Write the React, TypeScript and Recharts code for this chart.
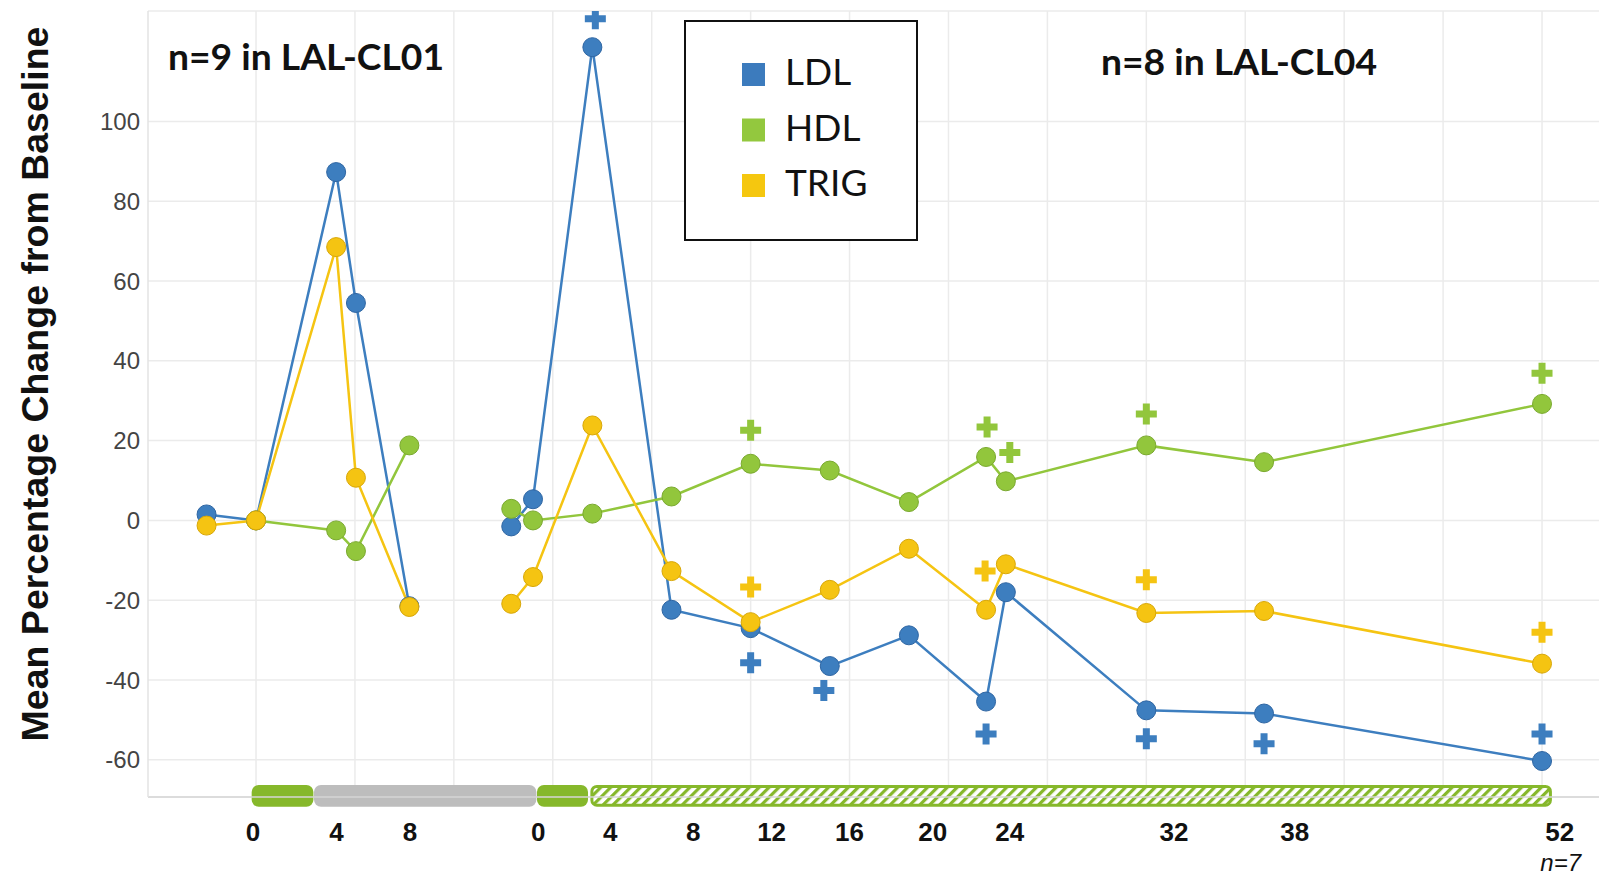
import React from "react";
import { ComposedChart, Line, Scatter, XAxis, YAxis, CartesianGrid, ReferenceArea, Legend } from "recharts";

// x position on the display axis: 5 units per grid column, LAL-CL01 first, then LAL-CL04
const pos = [-2.5, 0, 4.05, 5.05, 7.75, 10, 12.9, 14, 17, 21, 25, 29, 33, 36.9, 37.9, 45, 50.95, 65];
const ldl = [1.5, 0, 87.3, 54.5, -21.5, null, -1.5, 5.3, 118.6, -22.4, -27, -36.5, -28.8, -45.4, -18, -47.6, -48.4, -60.3];
const hdl = [null, 0, -2.5, -7.7, 18.8, null, 2.9, 0, 1.7, 6, 14.2, 12.5, 4.6, 15.9, 9.8, 18.8, 14.6, 29.2];
const trig = [-1.3, 0, 68.5, 10.7, -21.7, null, -20.9, -14.2, 23.8, -12.7, -25.5, -17.4, -7.1, -22.4, -11, -23.2, -22.7, -35.9];

// significance markers (+)
const ldlSigPos = [17.15, 25, 28.7, 36.9, 45, 50.95, 65];
const ldlSig = [125.7, -35.7, -42.6, -53.5, -54.7, -56, -53.5];
const hdlSigPos = [25, 36.95, 38.1, 45, 65];
const hdlSig = [22.6, 23.4, 17, 26.7, 36.9];
const trigSigPos = [25, 36.85, 45, 65];
const trigSig = [-16.7, -12.7, -14.9, -28];

// week labels under the axis
const weekTickPos = [-0.15, 4.07, 7.78, 14.27, 17.9, 22.1, 26.06, 30.0, 34.2, 38.1, 46.4, 52.5, 65.9];
const weekTicks = ["0", "4", "8", "0", "4", "8", "12", "16", "20", "24", "32", "38", "52"];
const yTicks = [-60, -40, -20, 0, 20, 40, 60, 80, 100];
const gridPos = [0, 5, 10, 15, 20, 25, 30, 35, 40, 45, 50, 55, 60, 65];

// treatment timeline
const phaseStart = [-0.22, 2.93, 14.2, 16.9];
const phaseEnd = [2.9, 14.17, 16.78, 65.5];
const phaseKind = ["dose", "washout", "dose", "extension"];

const BLUE = "#3d7ebf";
const GREEN = "#92c63c";
const YELLOW = "#f5c412";
const BAR_GREEN = "#86b82b";

const series = [
  { key: "ldl", name: "LDL", color: BLUE, edge: "#2f66a3", legend: "#3c7bbd" },
  { key: "hdl", name: "HDL", color: GREEN, edge: "#7aa92f", legend: "#93c83e" },
  { key: "trig", name: "TRIG", color: YELLOW, edge: "#d8a708", legend: "#f5c70f" },
];

const data = pos.map((p, i) => ({ pos: p, ldl: ldl[i], hdl: hdl[i], trig: trig[i] }));
const toPts = (xs: number[], ys: number[]) => xs.map((p, i) => ({ pos: p, v: ys[i] }));

const plus = (color: string) => (props: any) => {
  const { cx, cy } = props;
  const a = 10.5;
  const t = 3.5;
  return (
    <path
      d={`M${cx - t},${cy - a}h${2 * t}v${a - t}h${a - t}v${2 * t}h${-(a - t)}v${a - t}h${-2 * t}v${-(a - t)}h${-(a - t)}v${-2 * t}h${a - t}z`}
      fill={color}
    />
  );
};

const phaseShape = (kind: string) => (props: any) => {
  const { x, y, width, height } = props;
  if (kind === "extension") {
    return (
      <rect x={x + 1.5} y={y + 1.5} width={width - 3} height={height - 3} rx={5} fill="url(#hatch)" stroke={BAR_GREEN} strokeWidth={3} />
    );
  }
  return <rect x={x} y={y} width={width} height={height} rx={7} fill={kind === "dose" ? BAR_GREEN : "#bdbdbd"} />;
};

const renderLegend = () => (
  <svg width={234} height={221}>
    <rect x={1} y={1} width={232} height={219} fill="#fff" stroke="#111" strokeWidth={2} />
    {series.map((s, i) => (
      <g key={s.key}>
        <rect x={58} y={43 + i * 55.5} width={23} height={23} fill={s.legend} />
        <text x={101} y={65 + i * 55.5} fontSize={37} fontFamily="Lato, 'Open Sans', sans-serif" fill="#111">
          {s.name}
        </text>
      </g>
    ))}
  </svg>
);

export default function App() {
  const font = "'Liberation Sans', Arial, sans-serif";
  return (
    <div style={{ position: "absolute", left: 0, top: 0, width: 1599, height: 876, background: "#fff" }}>
      <svg width={0} height={0} style={{ position: "absolute" }}>
        <defs>
          <pattern id="hatch" patternUnits="userSpaceOnUse" width={7} height={7} patternTransform="rotate(45)">
            <rect width={7} height={7} fill="#fff" />
            <rect width={3.2} height={7} fill={BAR_GREEN} />
          </pattern>
        </defs>
      </svg>
      <ComposedChart width={1599} height={876} data={data} margin={{ top: 11, right: 0, bottom: 19, left: 0 }}>
        <CartesianGrid stroke="#ebebeb" strokeWidth={1.5} verticalValues={gridPos} />
        <XAxis
          dataKey="pos"
          type="number"
          domain={[-5.46, 67.88]}
          allowDataOverflow
          ticks={weekTickPos}
          interval={0}
          tickFormatter={(_v: number, i: number) => weekTicks[i]}
          height={60}
          tickLine={false}
          tickSize={0}
          tickMargin={26}
          axisLine={{ stroke: "#d6d6d6", strokeWidth: 1.5 }}
          tick={{ fontSize: 26, fontWeight: 700, fill: "#111", fontFamily: font }}
        />
        <YAxis
          type="number"
          domain={[-69.32, 127.67]}
          allowDataOverflow
          ticks={yTicks}
          width={148}
          tickLine={false}
          tickSize={0}
          tickMargin={8}
          axisLine={{ stroke: "#e3e3e3", strokeWidth: 1.5 }}
          tick={{ fontSize: 24, fill: "#444", fontFamily: font }}
        />
        {phaseKind.map((k, i) => (
          <ReferenceArea
            key={i}
            x1={phaseStart[i]}
            x2={phaseEnd[i]}
            y1={-71.75}
            y2={-66.3}
            ifOverflow="visible"
            shape={phaseShape(k)}
          />
        ))}
        {series.map((s) => (
          <Line
            key={s.key}
            dataKey={s.key}
            name={s.name}
            type="linear"
            stroke={s.color}
            strokeWidth={2.5}
            dot={{ r: 9.5, fill: s.color, stroke: s.edge, strokeWidth: 1 }}
            activeDot={false}
            isAnimationActive={false}
          />
        ))}
        <Scatter data={toPts(ldlSigPos, ldlSig)} dataKey="v" legendType="none" shape={plus(BLUE)} isAnimationActive={false} />
        <Scatter data={toPts(hdlSigPos, hdlSig)} dataKey="v" legendType="none" shape={plus(GREEN)} isAnimationActive={false} />
        <Scatter data={toPts(trigSigPos, trigSig)} dataKey="v" legendType="none" shape={plus(YELLOW)} isAnimationActive={false} />
        <Legend
          layout="vertical"
          align="center"
          verticalAlign="middle"
          content={renderLegend}
          wrapperStyle={{ position: "absolute", left: 684, top: 20, width: 234, height: 221 }}
        />
      </ComposedChart>
      <svg width={1599} height={876} style={{ position: "absolute", left: 0, top: 0, pointerEvents: "none" }}>
        <text
          x={48}
          y={384}
          transform="rotate(-90, 48, 384)"
          textAnchor="middle"
          fontSize={37.5}
          fontWeight={700}
          fontFamily={font}
          fill="#111"
        >
          Mean Percentage Change from Baseline
        </text>
        <text x={168} y={70} fontSize={37} fontWeight={700} fontFamily="Lato, sans-serif" fill="#111" textLength={276} lengthAdjust="spacingAndGlyphs">
          n=9 in LAL-CL01
        </text>
        <text x={1101} y={74.5} fontSize={37} fontWeight={700} fontFamily="Lato, sans-serif" fill="#111" textLength={276} lengthAdjust="spacingAndGlyphs">
          n=8 in LAL-CL04
        </text>
        <text x={1581} y={870.5} textAnchor="end" fontSize={24} fontStyle="italic" fontFamily={font} fill="#111">
          n=7
        </text>
      </svg>
    </div>
  );
}
